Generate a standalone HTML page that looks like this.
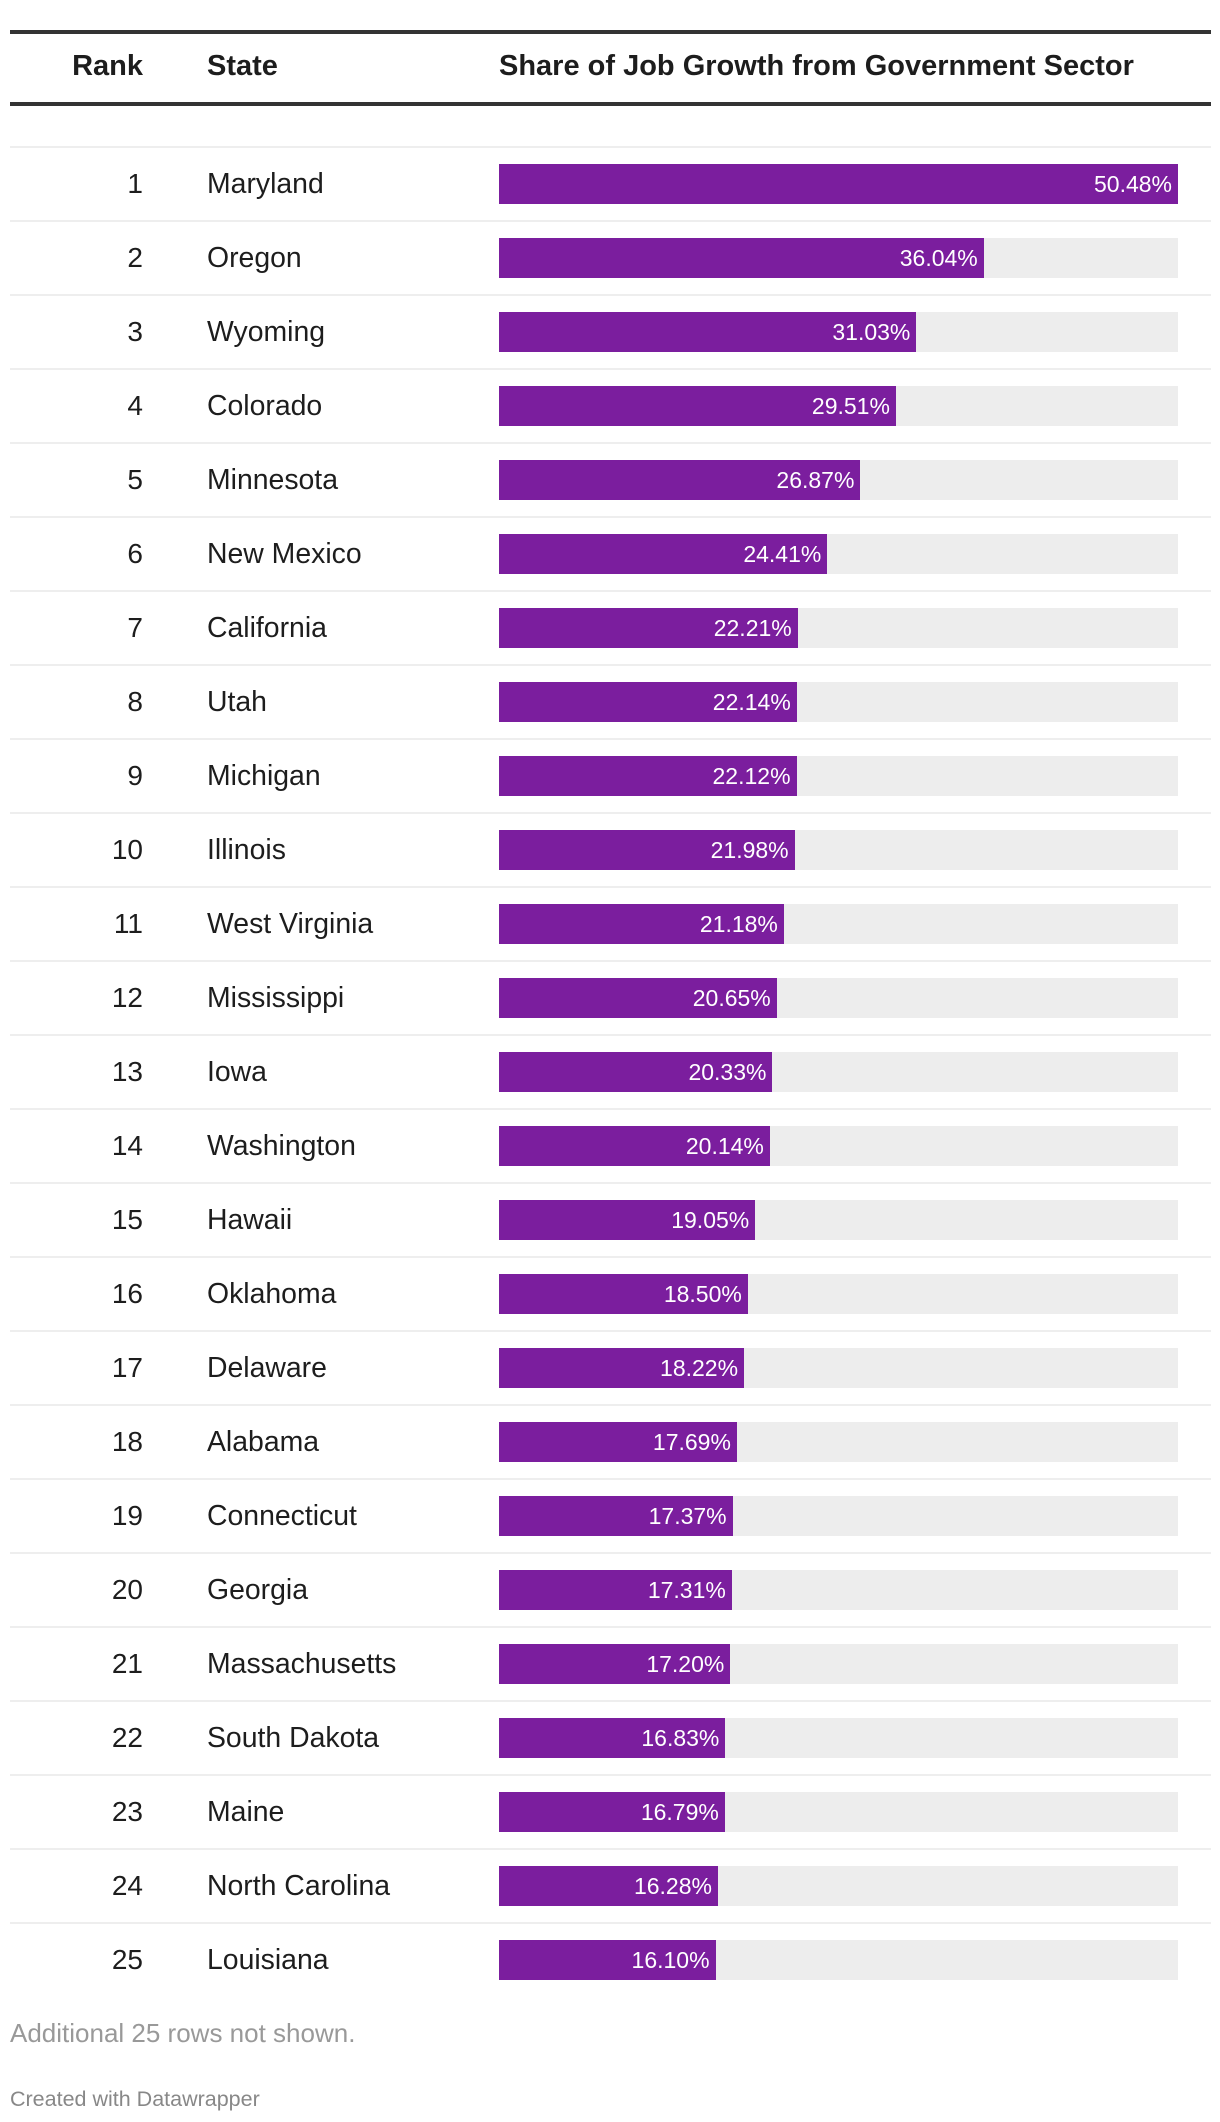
<!DOCTYPE html>
<html><head><meta charset="utf-8"><style>
body{margin:0;background:#fff;width:1220px;height:2122px;overflow:hidden;font-family:"Liberation Sans",sans-serif;color:#1d1d1d;position:relative}
.abs{position:absolute}
</style></head><body>
<div class="abs" style="left:10px;top:30px;width:1201px;height:4px;background:#333"></div>
<div class="abs" style="left:40px;top:50px;width:103px;text-align:right;font-weight:bold;font-size:29px">Rank</div>
<div class="abs" style="left:207px;top:50px;font-weight:bold;font-size:29px">State</div>
<div class="abs" style="left:499px;top:50px;font-weight:bold;font-size:29px">Share of Job Growth from Government Sector</div>
<div class="abs" style="left:10px;top:102px;width:1201px;height:4px;background:#333"></div>
<div class="abs" style="left:10px;top:146px;width:1201px;height:2px;background:#eee"></div>
<div id="rows"></div>
<div class="abs" style="left:10px;top:2018px;font-size:26px;color:#999">Additional 25 rows not shown.</div>
<div class="abs" style="left:10px;top:2087px;font-size:21.5px;color:#888">Created with Datawrapper</div>
<script>
const states=["Maryland","Oregon","Wyoming","Colorado","Minnesota","New Mexico","California","Utah","Michigan","Illinois","West Virginia","Mississippi","Iowa","Washington","Hawaii","Oklahoma","Delaware","Alabama","Connecticut","Georgia","Massachusetts","South Dakota","Maine","North Carolina","Louisiana"];
const values=[50.48,36.04,31.03,29.51,26.87,24.41,22.21,22.14,22.12,21.98,21.18,20.65,20.33,20.14,19.05,18.50,18.22,17.69,17.37,17.31,17.20,16.83,16.79,16.28,16.10];
const maxV=50.48,barX=499,barW=679,top0=164,pitch=74;
const x=v=>v/maxV*barW;
const c=document.getElementById('rows');
states.forEach((s,i)=>{
  const y=top0+i*pitch;
  const r=document.createElement('div');r.className='abs';
  
  
  r.style.cssText=`left:40px;top:${y+4}px;width:103px;text-align:right;font-size:28px`;r.textContent=i+1;c.appendChild(r);
  const n=document.createElement('div');n.className='abs';
  
  
  n.style.cssText=`left:207px;top:${y+4}px;font-size:28.4px`;n.textContent=s;c.appendChild(n);
  const bg=document.createElement('div');bg.className='abs';
  
  
  bg.style.cssText=`left:${barX}px;top:${y}px;width:${barW}px;height:40px;background:#ededed`;c.appendChild(bg);
  const b=document.createElement('div');b.className='abs';
  
  
  b.style.cssText=`left:${barX}px;top:${y}px;width:${x(values[i])}px;height:40px;background:#7b1e9e;color:#fff;font-size:23px;text-align:right;box-sizing:border-box;padding-right:6px;line-height:40px;white-space:nowrap`;
  b.textContent=values[i].toFixed(2)+'%';c.appendChild(b);
  if(i<states.length-1){const l=document.createElement('div');l.className='abs';
  
  
  l.style.cssText=`left:10px;top:${y+56}px;width:1201px;height:2px;background:#eee`;c.appendChild(l);}
});
</script>
</body></html>
